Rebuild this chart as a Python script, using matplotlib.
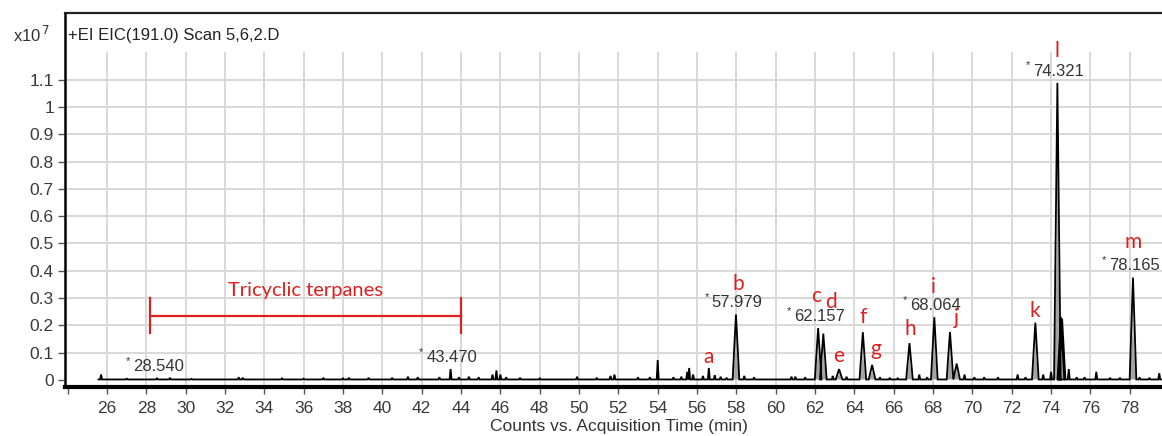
import matplotlib
matplotlib.use("Agg")
import matplotlib.pyplot as plt

# ---- data (abundance in units of 1e7 counts, time in minutes) ----
# integrated peaks (drawn with grey area)
area_rt = [57.979, 62.157, 62.42, 63.22, 64.43, 64.90, 66.80, 68.064, 68.86, 69.20,
           73.20, 74.321, 74.50, 74.56, 78.165]
area_h = [0.24, 0.19, 0.17, 0.040, 0.175, 0.055, 0.135, 0.23, 0.176, 0.060,
          0.21, 1.088, 0.23, 0.225, 0.375]

# small, non-integrated peaks along the baseline
minor_rt = [25.7, 27.0, 28.54, 29.2, 30.3, 32.7, 32.9, 34.9, 36.0, 37.0, 38.0, 38.3,
            39.3, 40.5, 41.3, 41.8, 42.9, 43.47, 43.9, 44.4, 44.9, 45.6, 45.8, 46.0,
            46.3, 47.0, 48.0, 49.9, 50.9, 51.6, 51.8, 53.0, 53.6, 54.0, 54.8, 55.2,
            55.5, 55.6, 55.8, 56.3, 56.6, 56.9, 57.2, 57.5, 58.4, 58.9, 60.8, 61.0,
            61.5, 62.9, 63.6, 65.3, 65.8, 66.2, 67.3, 67.7, 69.6, 70.1, 70.6, 71.3,
            72.3, 72.7, 73.6, 74.0, 74.9, 75.3, 75.7, 76.3, 77.0, 77.5, 78.5, 79.0,
            79.5]
minor_h = [0.020, 0.005, 0.006, 0.008, 0.004, 0.010, 0.008, 0.006, 0.005, 0.008, 0.006, 0.008,
           0.008, 0.008, 0.012, 0.010, 0.010, 0.040, 0.010, 0.012, 0.010, 0.020, 0.035, 0.020,
           0.010, 0.008, 0.006, 0.012, 0.008, 0.015, 0.020, 0.010, 0.010, 0.073, 0.010, 0.012,
           0.030, 0.044, 0.020, 0.015, 0.044, 0.018, 0.012, 0.008, 0.015, 0.010, 0.012, 0.012,
           0.010, 0.015, 0.012, 0.010, 0.008, 0.006, 0.020, 0.010, 0.020, 0.010, 0.010, 0.010,
           0.020, 0.010, 0.020, 0.030, 0.040, 0.010, 0.010, 0.030, 0.008, 0.008, 0.010, 0.008,
           0.025]

# retention-time labels
rt_labels = [28.540, 43.470, 57.979, 62.157, 68.064, 74.321, 78.165]
rt_label_h = [0.006, 0.040, 0.24, 0.19, 0.23, 1.088, 0.375]

# compound letters: (letter, time, baseline height)
letters = ["a", "b", "c", "d", "e", "f", "g", "h", "i", "j", "k", "l", "m"]
letter_t = [56.6, 58.08, 62.05, 62.80, 63.21, 64.43, 65.1, 66.82, 67.99, 69.2, 73.18, 74.30, 78.16]
letter_y = [0.062, 0.33, 0.286, 0.264, 0.066, 0.209, 0.092, 0.165, 0.319, 0.205, 0.231, 1.183, 0.484]

# tricyclic terpanes range
tri_start, tri_end = 28.2, 44.0

x_ticks = list(range(24, 80, 2))
x_labels = ["" if t == 24 else str(t) for t in x_ticks]
y_ticks = [0, 0.1, 0.2, 0.3, 0.4, 0.5, 0.6, 0.7, 0.8, 0.9, 1.0, 1.1]
y_labels = ["0", "0.1", "0.2", "0.3", "0.4", "0.5", "0.6", "0.7", "0.8", "0.9", "1", "1.1"]

# ---- figure ----
W, H = 1162, 436
fig = plt.figure(figsize=(W / 100, H / 100), dpi=100)
ax = fig.add_axes([65 / W, 1 - 387 / H, (W - 65) / W + 0.01, (387 - 13) / H])

xmin, xmax = 23.865, 79.64 + 0.01 * W / 19.67
ymin, ymax = -0.0256, 1.344
grid_top = 1.198
ax.set_xlim(xmin, xmax)
ax.set_ylim(ymin, ymax)

tick_font = dict(family="Liberation Sans", size=12.5, color="#3a3a3a")
red = "#dc1f1f"

# grid
for t in x_ticks[1:]:
    ax.plot([t, t], [ymin, grid_top], color="#d8d8d8", lw=1.4, zorder=0)
for v in y_ticks[1:]:
    ax.axhline(v, color="#d8d8d8", lw=1.4, zorder=0)

# trace
base = 0.002
area_hw = 0.17
peaks = sorted([(t, h, area_hw) for t, h in zip(area_rt, area_h)] +
               [(t, h, 0.05) for t, h in zip(minor_rt, minor_h)])
xs, ys = [xmin + 1.7], [base]
for t, h, hw in peaks:
    xs += [t - hw, t, t + hw]
    ys += [base, h, base]
xs.append(xmax)
ys.append(base)

for t, h in zip(area_rt, area_h):
    ax.fill([t - area_hw, t - 0.03, t, t + 0.03, t + area_hw],
            [base, 0.45 * h, h, 0.45 * h, base], color="#a4a4a4", lw=0, zorder=2)
ax.plot(xs, ys, color="black", lw=1.3, zorder=3, solid_joinstyle="miter")

# retention-time labels
for t, h in zip(rt_labels, rt_label_h):
    txt = f"{t:.3f}"
    ax.annotate(txt, (t, h), xytext=(1, 3), textcoords="offset points",
                ha="center", va="bottom", fontsize=12, family="Liberation Sans",
                color="#333333", zorder=5)
    ax.annotate("*", (t, h), xytext=(-21, 9), textcoords="offset points",
                ha="center", va="bottom", fontsize=8, family="Liberation Sans",
                color="#333333", zorder=5)

# compound letters
for s, t, y in zip(letters, letter_t, letter_y):
    ax.text(t, y, s, ha="center", va="baseline", fontsize=15, family="Lato",
            color=red, zorder=6)

# tricyclic terpanes bracket
ax.plot([tri_start, tri_end], [0.234, 0.234], color=red, lw=1.6, zorder=4)
ax.plot([tri_start, tri_start], [0.172, 0.300], color=red, lw=1.6, zorder=4)
ax.plot([tri_end, tri_end], [0.172, 0.300], color=red, lw=1.6, zorder=4)
ax.text((tri_start + tri_end) / 2, 0.308, "Tricyclic terpanes", ha="center",
        va="baseline", fontsize=14.5, family="Lato", color=red, zorder=5)

# axes styling
ax.set_xticks(x_ticks)
ax.set_xticklabels(x_labels, **tick_font)
ax.set_yticks(y_ticks)
ax.set_yticklabels(y_labels, **tick_font)
ax.tick_params(axis="x", direction="out", length=5, width=1, color="#555555", pad=5)
ax.tick_params(axis="y", direction="out", length=5, width=1, color="#555555", pad=3)
ax.spines["right"].set_visible(False)
ax.spines["bottom"].set_linewidth(3.0)
ax.spines["left"].set_linewidth(1.8)
ax.spines["top"].set_linewidth(1.6)
ax.spines["top"].set_color("#222222")

ax.set_xlabel("Counts vs. Acquisition Time (min)", family="Liberation Sans",
              fontsize=12.5, color="#333333", labelpad=2)

ax.text(0.003, 0.94, "+EI EIC(191.0) Scan 5,6,2.D", transform=ax.transAxes,
        ha="left", va="center", family="Liberation Sans", fontsize=12, color="#222222")
fig.text(13 / W, 1 - 35 / H, r"x10$^{\,7}$", ha="left", va="center",
         family="Liberation Sans", fontsize=12, color="#333333")

fig.savefig("out.png", dpi=100, facecolor="white")
